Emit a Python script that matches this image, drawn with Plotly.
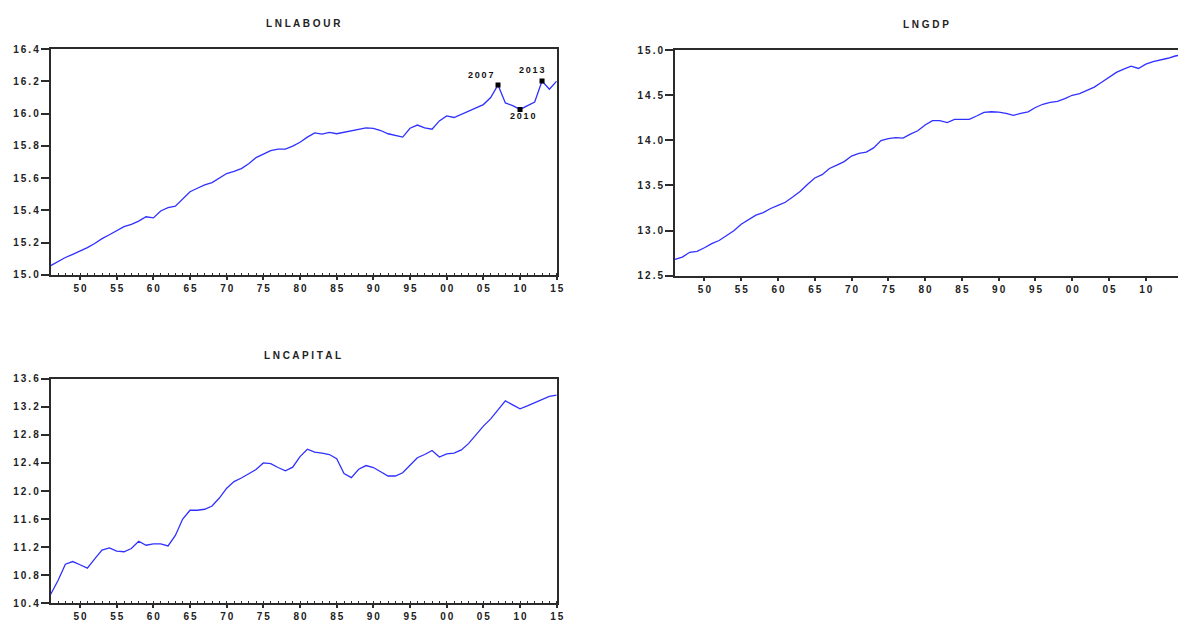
import plotly.graph_objects as go

# Annual observations, 1946-2015
years = list(range(1946, 2016))

lnlabour = [
    15.057, 15.083, 15.107, 15.127, 15.147, 15.168, 15.194, 15.224, 15.248, 15.275,
    15.299, 15.313, 15.333, 15.360, 15.353, 15.396, 15.416, 15.426, 15.470, 15.515,
    15.537, 15.558, 15.572, 15.602, 15.628, 15.642, 15.659, 15.689, 15.727, 15.749,
    15.770, 15.780, 15.780, 15.798, 15.822, 15.854, 15.880, 15.873, 15.883, 15.875,
    15.885, 15.895, 15.903, 15.911, 15.909, 15.895, 15.875, 15.863, 15.854, 15.909,
    15.929, 15.911, 15.903, 15.955, 15.986, 15.976, 15.996, 16.016, 16.034, 16.056,
    16.100, 16.178, 16.066, 16.050, 16.026, 16.050, 16.072, 16.202, 16.151, 16.202,
]

lngdp = [
    12.680, 12.707, 12.760, 12.770, 12.810, 12.856, 12.890, 12.947, 12.998, 13.070,
    13.125, 13.172, 13.200, 13.245, 13.280, 13.314, 13.372, 13.434, 13.510, 13.583,
    13.620, 13.688, 13.725, 13.765, 13.826, 13.855, 13.870, 13.917, 13.997, 14.019,
    14.030, 14.026, 14.070, 14.106, 14.170, 14.219, 14.219, 14.197, 14.233, 14.233,
    14.233, 14.270, 14.310, 14.317, 14.313, 14.300, 14.277, 14.300, 14.317, 14.364,
    14.400, 14.422, 14.433, 14.462, 14.500, 14.517, 14.553, 14.590, 14.644, 14.700,
    14.753, 14.790, 14.822, 14.797, 14.844, 14.873, 14.888, 14.910, 14.935, 14.950,
]

lncapital = [
    10.530, 10.726, 10.958, 10.995, 10.950, 10.902, 11.033, 11.158, 11.190, 11.144,
    11.135, 11.180, 11.284, 11.228, 11.246, 11.246, 11.218, 11.367, 11.600, 11.726,
    11.726, 11.740, 11.786, 11.900, 12.040, 12.135, 12.186, 12.242, 12.307, 12.400,
    12.390, 12.335, 12.288, 12.340, 12.490, 12.595, 12.553, 12.540, 12.520, 12.460,
    12.250, 12.190, 12.310, 12.363, 12.335, 12.274, 12.214, 12.214, 12.260, 12.367,
    12.474, 12.520, 12.577, 12.484, 12.530, 12.540, 12.586, 12.679, 12.810, 12.925,
    13.028, 13.158, 13.284, 13.228, 13.172, 13.214, 13.260, 13.310, 13.349, 13.367,
]

# Labelled turning points on the labour series
marked_years = [2007, 2010, 2013]

year_ticks = list(range(1950, 2016, 5))
year_labels = [str(y)[2:] for y in year_ticks]

labour_ticks = [15.0, 15.2, 15.4, 15.6, 15.8, 16.0, 16.2, 16.4]
gdp_ticks = [12.5, 13.0, 13.5, 14.0, 14.5, 15.0]
capital_ticks = [10.4, 10.8, 11.2, 11.6, 12.0, 12.4, 12.8, 13.2, 13.6]

W, H = 1185, 626
LINE = "#3030ff"
AXIS = "#2b2b2b"
FONT = "Liberation Sans, Arial"
TICKFONT = dict(family=FONT, size=10, color="#222222", weight="bold")
THIN = "\u2009"


def spaced(s):
    # widen the tick text a little, like the EViews raster font
    return THIN.join(s)


def px_x(a, b):
    return [a / W, b / W]


def px_y(top, bottom):
    return [1 - bottom / H, 1 - top / H]


def xaxis_cfg(domain, anchor, rng, minor=True, mirror=True):
    cfg = dict(
        domain=domain, anchor=anchor, range=rng,
        tickvals=year_ticks, ticktext=[spaced(t) for t in year_labels],
        ticks="outside", ticklen=3, tickwidth=1.5, tickcolor=AXIS,
        showline=True, linecolor=AXIS, linewidth=2, mirror=mirror,
        showgrid=False, zeroline=False, tickfont=TICKFONT,
    )
    if minor:
        cfg["minor"] = dict(ticks="inside", dtick=1, ticklen=2, tickcolor=AXIS,
                            tickwidth=1, showgrid=False)
    return cfg


def yaxis_cfg(domain, anchor, rng, ticks, mirror=True):
    return dict(
        domain=domain, anchor=anchor, range=rng,
        tickvals=ticks, ticktext=[spaced(f"{t:.1f}") for t in ticks],
        ticks="outside", ticklen=8, tickwidth=1.5, tickcolor=AXIS,
        showline=True, linecolor=AXIS, linewidth=2, mirror=mirror,
        showgrid=False, zeroline=False, tickfont=TICKFONT,
    )


fig = go.Figure()

fig.add_trace(go.Scatter(x=years, y=lnlabour, mode="lines",
                         line=dict(color=LINE, width=1.3),
                         xaxis="x", yaxis="y", showlegend=False))
fig.add_trace(go.Scatter(x=years, y=lngdp, mode="lines",
                         line=dict(color=LINE, width=1.3),
                         xaxis="x2", yaxis="y2", showlegend=False))
fig.add_trace(go.Scatter(x=years, y=lncapital, mode="lines",
                         line=dict(color=LINE, width=1.3),
                         xaxis="x3", yaxis="y3", showlegend=False))

marked_vals = [lnlabour[years.index(y)] for y in marked_years]
fig.add_trace(go.Scatter(x=marked_years, y=marked_vals, mode="markers",
                         marker=dict(symbol="square", size=5, color="black"),
                         xaxis="x", yaxis="y", showlegend=False))

# Label offsets (pixels) for the marked years
label_shift = {2007: (-18, 10), 2010: (2, -7), 2013: (-11, 11)}
for yr, val in zip(marked_years, marked_vals):
    dx, dy = label_shift[yr]
    fig.add_annotation(x=yr, y=val, xref="x", yref="y", text=spaced(str(yr)),
                       showarrow=False, xshift=dx, yshift=dy,
                       font=dict(family=FONT, size=9, color="#111111", weight="bold"))

titles = [
    ("L N L A B O U R", 305 / W, 1 - 18 / H),
    ("L N G D P", 931 / W, 1 - 19 / H),
    ("L N C A P I T A L", 304 / W, 1 - 356 / H),
]
for text, tx, ty in titles:
    fig.add_annotation(x=tx, y=ty, xref="paper", yref="paper", text=text,
                       showarrow=False, xanchor="center", yanchor="middle",
                       font=dict(family=FONT, size=10, color="#222222", weight="bold"))

gdp_right = 1946 + (W - 679) / 7.4

fig.update_layout(
    width=W, height=H,
    margin=dict(l=0, r=0, t=0, b=0),
    paper_bgcolor="white", plot_bgcolor="white",
    xaxis=xaxis_cfg(px_x(51, 560), "y", [1946, 2015]),
    yaxis=yaxis_cfg(px_y(44, 274), "x", [15.0, 16.4], labour_ticks),
    xaxis2=xaxis_cfg(px_x(679, W), "y2", [1946, gdp_right], minor=False),
    yaxis2=yaxis_cfg(px_y(45, 275), "x2", [12.5, 15.0], gdp_ticks, mirror=False),
    xaxis3=xaxis_cfg(px_x(51, 560), "y3", [1946, 2015]),
    yaxis3=yaxis_cfg(px_y(380, 609), "x3", [10.4, 13.6], capital_ticks),
)

fig.write_html("out.html")
